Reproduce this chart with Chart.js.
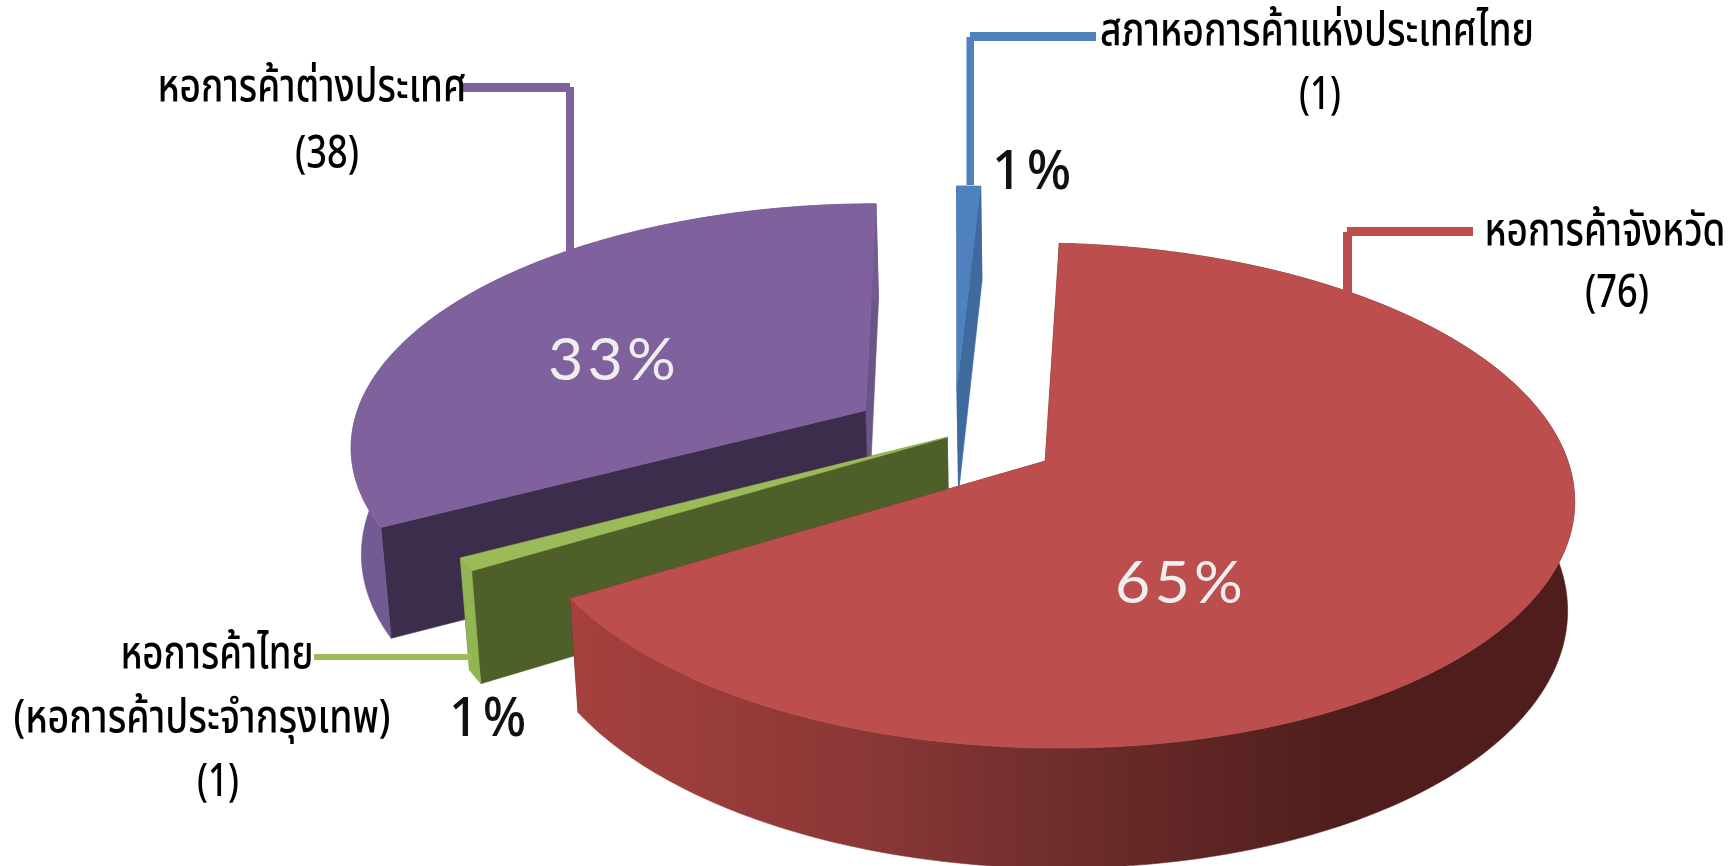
<!DOCTYPE html>
<html>
<head>
<meta charset="utf-8">
<style>
  html, body { margin: 0; padding: 0; background: #fff; }
  canvas { display: block; }
</style>
<script src="https://cdn.jsdelivr.net/npm/chart.js@4"></script>
</head>
<body>
<canvas id="chamberChart" width="1736" height="866"></canvas>
<script>
const categories = ['สภาหอการค้าแห่งประเทศไทย', 'หอการค้าจังหวัด', 'หอการค้าไทย', 'หอการค้าต่างประเทศ'];
const counts = [1, 76, 1, 38];
const percentLabels = ['1%', '65%', '1%', '33%'];
const explode = [80, 80, 6, 80];

const topColors = ['#4F81BD', '#BC4F4D', '#9BBB59', '#7F619E'];
const wallColors = ['#3E6A9E', '#8A3735', '#93B453', '#725A92'];
const startFaceColors = ['#3E6A9E', '#4F1E1C', '#4E5F2A', '#3C2D4C'];
const endFaceColors = ['#3E6A9E', '#4F1E1C', '#4E5F2A', '#6B5488'];

// back to front
const drawOrder = [0, 3, 2, 1];

const FONT = '"Noto Sans Thai", "Noto Sans", "Open Sans", sans-serif';
const THIN_FONT = 'Lato, "Open Sans", sans-serif';

// text and leader placement
const textItems = [
  { text: categories[0], x: 1317, y: 45, w: 434 },
  { text: '(1)', x: 1320, y: 109, w: 42 },
  { text: categories[1], x: 1605, y: 245, w: 241 },
  { text: '(76)', x: 1617, y: 307, w: 64 },
  { text: categories[3], x: 312, y: 101, w: 309 },
  { text: '(38)', x: 327, y: 168, w: 64 },
  { text: categories[2], x: 217, y: 668, w: 193 },
  { text: '(หอการค้าประจำกรุงเทพ)', x: 202, y: 732, w: 377 },
  { text: '(1)', x: 218, y: 796, w: 42 }
];
const percentItems = [
  { text: percentLabels[0], x: 1034, y: 189, w: 84, size: 55, weight: 500, gap: 5, color: '#111', font: FONT },
  { text: percentLabels[1], x: 1181, y: 603, w: 132, size: 58, weight: 400, gap: 4, color: '#EEE', font: THIN_FONT },
  { text: percentLabels[2], x: 490, y: 736, w: 82, size: 55, weight: 500, gap: 5, color: '#111', font: FONT },
  { text: percentLabels[3], x: 614, y: 380, w: 132, size: 58, weight: 400, gap: 4, color: '#EEE', font: THIN_FONT }
];
const leaders = [
  { color: '#4F81BD', rects: [[970, 32, 126, 9], [966.5, 37, 7.5, 148]] },
  { color: '#7F619E', rects: [[460, 83, 110, 9], [566, 87, 8, 172]] },
  { color: '#BC4F4D', rects: [[1347, 227, 126, 9], [1343, 232, 9, 66]] },
  { color: '#9BBB59', rects: [[314, 654, 158, 6]] }
];

// circle plane (radius 1, z 0 top, z 1 base) to screen, perspective fitted by eye
function project(u, v, z) {
  const ur = u - 0.174, vr = v - 0.1045;
  const w = 1 - 0.1366 * vr + 0.0143 * z;
  return [(1045 + 522.6 * ur - 130.5 * vr + 15.5 * z) / w, (461 + 184.8 * vr + 116 * z) / w];
}

function fillPoly(ctx, pts, fill) {
  ctx.beginPath();
  pts.forEach((p, i) => (i ? ctx.lineTo(p[0], p[1]) : ctx.moveTo(p[0], p[1])));
  ctx.closePath();
  ctx.fillStyle = fill;
  ctx.fill();
  ctx.strokeStyle = fill;
  ctx.lineWidth = 0.6;
  ctx.stroke();
}

function drawSlice(ctx, el, i) {
  const mid = (el.startAngle + el.endAngle) / 2;
  const off = el.options.offset / el.outerRadius;
  const cu = Math.cos(mid) * off, cv = Math.sin(mid) * off;
  const steps = Math.max(4, Math.ceil((el.endAngle - el.startAngle) * 60));
  const rim = [];
  for (let s = 0; s <= steps; s++) {
    const a = el.startAngle + (el.endAngle - el.startAngle) * s / steps;
    rim.push([cu + Math.cos(a), cv + Math.sin(a)]);
  }
  const up = (p) => project(p[0], p[1], 0);
  const down = (p) => project(p[0], p[1], 1);
  const first = rim[0], last = rim[rim.length - 1], apex = [cu, cv];

  fillPoly(ctx, [up(apex), up(last), down(last), down(apex)], endFaceColors[i]);
  fillPoly(ctx, [up(apex), up(first), down(first), down(apex)], startFaceColors[i]);

  let wallFill = wallColors[i];
  if (i === 1) {
    wallFill = ctx.createLinearGradient(570, 0, 1340, 0);
    wallFill.addColorStop(0, '#A5413F');
    wallFill.addColorStop(0.4, '#893735');
    wallFill.addColorStop(0.6, '#722F2E');
    wallFill.addColorStop(1, '#4F1E1C');
  }
  fillPoly(ctx, rim.map(up).concat(rim.slice().reverse().map(down)), wallFill);
  fillPoly(ctx, [up(apex)].concat(rim.map(up)), topColors[i]);
}

function drawText(ctx, item, font, color, gap) {
  ctx.save();
  ctx.font = font;
  ctx.letterSpacing = (gap || 0) + 'px';
  ctx.fillStyle = color;
  ctx.textAlign = 'center';
  ctx.textBaseline = 'alphabetic';
  ctx.translate(item.x, item.y);
  ctx.scale(item.w / ctx.measureText(item.text).width, 1);
  ctx.fillText(item.text, 0, 0);
  ctx.restore();
}

const pie3d = {
  id: 'pie3d',
  beforeDatasetsDraw(chart) {
    const ctx = chart.ctx;
    const arcs = chart.getDatasetMeta(0).data;
    drawOrder.forEach((i) => drawSlice(ctx, arcs[i], i));

    leaders.forEach((l) => {
      ctx.fillStyle = l.color;
      l.rects.forEach((r) => ctx.fillRect(r[0], r[1], r[2], r[3]));
    });

    textItems.forEach((t) => drawText(ctx, t, '500 46px ' + FONT, '#000', 0));
    percentItems.forEach((t) => drawText(ctx, t, t.weight + ' ' + t.size + 'px ' + t.font, t.color, t.gap));
    return false; // the flat arcs are replaced by the drawing above
  }
};

new Chart(document.getElementById('chamberChart').getContext('2d'), {
  type: 'pie',
  data: {
    labels: categories,
    datasets: [{ data: counts, backgroundColor: topColors, borderWidth: 0, offset: explode }]
  },
  options: {
    responsive: false,
    animation: false,
    rotation: 0,
    layout: { padding: 0 },
    plugins: { legend: { display: false }, tooltip: { enabled: false } }
  },
  plugins: [pie3d]
});
</script>
</body>
</html>
